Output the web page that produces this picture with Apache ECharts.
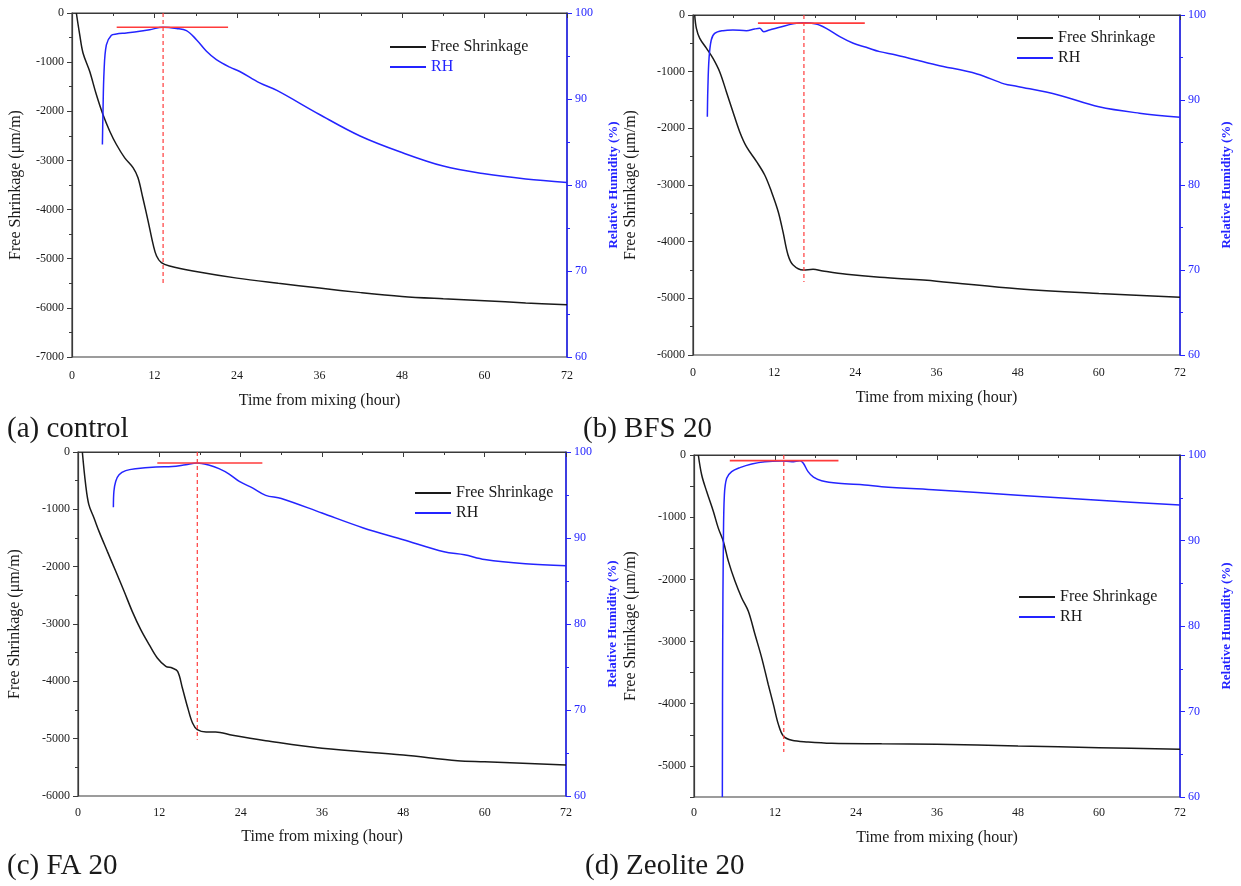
<!DOCTYPE html>
<html>
<head>
<meta charset="utf-8">
<title>Free shrinkage and RH</title>
<script src="https://cdn.jsdelivr.net/npm/echarts@6/dist/echarts.min.js"></script>
<style>
  html, body { margin: 0; background: #fff; }
  #chart { width: 1241px; height: 886px; }
</style>
</head>
<body>
<div id="chart"></div>
<script>
// ---- data (hours / µm/m / %) ----
// (a) control
const tFsA = [0.63, 1.12, 1.6, 2.57, 3.54, 4.5, 5.49, 6.46, 7.67, 8.9, 9.6, 10.3, 11.07, 11.8, 12.3, 13.0, 14.2, 17.6, 24, 30, 36, 42, 48, 54, 60, 66, 72];
const fsA = [0, -440, -813, -1186, -1660, -2066, -2405, -2676, -2947, -3150, -3354, -3760, -4234, -4709, -4946, -5081, -5149, -5250, -5395, -5500, -5598, -5690, -5767, -5815, -5855, -5900, -5937];
const tRhA = [4.42, 4.5, 4.66, 5.0, 5.73, 6.46, 7.9, 9.85, 11.3, 13.25, 15.2, 16.65, 18.1, 19.56, 21.0, 22.96, 24.4, 27.3, 29.8, 36, 41.9, 47.9, 54, 60, 66, 72];
const rhA = [84.7, 88.2, 93.2, 96.3, 97.4, 97.56, 97.68, 97.87, 98.06, 98.34, 98.2, 97.95, 96.9, 95.55, 94.58, 93.7, 93.2, 91.87, 91.0, 88.2, 85.7, 83.8, 82.2, 81.3, 80.7, 80.3];

// (b) BFS 20
const tFsB = [0.25, 0.5, 1.0, 2.0, 2.96, 3.94, 4.93, 5.9, 6.9, 7.9, 9.4, 10.6, 11.6, 12.6, 13.3, 14.05, 14.8, 16.3, 17.75, 19.2, 22.7, 27.6, 36, 48, 60, 72];
const fsB = [0, -235, -412, -588, -765, -1000, -1353, -1706, -2059, -2324, -2588, -2824, -3118, -3471, -3824, -4235, -4412, -4500, -4488, -4518, -4576, -4630, -4697, -4832, -4915, -4979];
const tRhB = [2.12, 2.2, 2.37, 2.7, 3.2, 4.44, 5.9, 7.9, 9.1, 9.86, 10.45, 11.3, 12.8, 14.8, 16.3, 18.2, 19.7, 21.7, 23.7, 25.6, 27.6, 30, 36, 42, 46, 48, 54, 60, 66, 72];
const rhB = [88.04, 91.4, 94.9, 97.06, 97.84, 98.16, 98.24, 98.16, 98.35, 98.43, 98.04, 98.24, 98.55, 98.98, 99.1, 98.94, 98.43, 97.45, 96.67, 96.2, 95.69, 95.3, 94.13, 93.07, 91.9, 91.6, 90.6, 89.2, 88.45, 87.98];

// (c) FA 20
const tFsC = [0.64, 1.13, 1.6, 2.36, 3.1, 4.33, 5.57, 6.8, 8.0, 9.26, 10.5, 11.7, 12.96, 13.9, 14.7, 15.4, 16.2, 16.9, 17.6, 18.9, 20.3, 22.8, 27.7, 36, 48, 56, 60, 72];
const fsC = [0, -570, -919, -1151, -1384, -1733, -2081, -2430, -2779, -3099, -3360, -3593, -3738, -3767, -3826, -4116, -4465, -4727, -4843, -4884, -4884, -4942, -5035, -5169, -5285, -5384, -5402, -5460];
const tRhC = [5.22, 5.3, 5.57, 6.06, 7.04, 8.5, 11.5, 13.9, 15.9, 17.6, 19.4, 20.8, 22.3, 23.8, 25.8, 27.7, 30, 36, 42, 48, 54, 57, 60, 66, 72];
const rhC = [93.57, 95.43, 96.6, 97.36, 97.83, 98.06, 98.26, 98.3, 98.53, 98.72, 98.45, 98.06, 97.44, 96.59, 95.8, 94.96, 94.6, 92.9, 91.2, 89.8, 88.4, 88.05, 87.5, 87.0, 86.77];

// (d) Zeolite 20
const tFsD = [0.64, 1.14, 1.88, 2.87, 3.6, 4.35, 5.1, 6.08, 7.07, 8.05, 9.04, 10.03, 11.0, 11.76, 12.5, 13.24, 14.5, 16.9, 20.4, 27.8, 36, 48, 60, 72];
const fsD = [0, -321, -588, -909, -1176, -1390, -1711, -2032, -2299, -2513, -2888, -3262, -3690, -4011, -4332, -4519, -4588, -4615, -4636, -4645, -4652, -4679, -4706, -4733];
const tRhD = [4.2, 4.25, 4.35, 4.5, 4.84, 5.58, 6.8, 8.55, 10.5, 13.0, 14.5, 15.7, 16.2, 16.9, 17.7, 18.9, 21.4, 25.3, 27.8, 36, 48, 60, 72];
const rhD = [60, 77.8, 89.5, 95.33, 97.28, 98.05, 98.52, 98.95, 99.22, 99.3, 99.22, 99.34, 99.03, 98.05, 97.4, 97.0, 96.7, 96.5, 96.3, 95.9, 95.3, 94.7, 94.16];

// red guide lines at the RH peak, one entry per panel (a, b, c, d)
const peakTime = [13.25, 16.4, 17.6, 13.3];
const peakRH = [98.34, 99.05, 98.72, 99.34];
const peakLineFrom = [6.5, 9.6, 11.7, 5.3];
const peakLineTo = [22.7, 25.4, 27.2, 21.4];
const dashBottom = [-5500, -4710, -5020, -4775];

const fsMins = [-7000, -6000, -6000, -5500];
const captions = ['(a) control', '(b) BFS 20', '(c) FA 20', '(d) Zeolite 20'];

const BLUE = '#2424ff';
const RED = '#ff3b3b';
const INK = '#1a1a1a';
const AXIS = '#3a3a3a';
const FONT = '"Liberation Serif", "DejaVu Serif", serif';

// layout of each panel (pixels)
const panels = [
  { tFs: tFsA, fs: fsA, tRh: tRhA, rh: rhA, grid: { left: 72, top: 13, width: 495, height: 344 },
    leftGap: 48, rightGap: 40, xGap: 36, labelGap: 13, legend: { left: 385, top: 34 }, rhLegendColor: BLUE, cap: [7, 415] },
  { tFs: tFsB, fs: fsB, tRh: tRhB, rh: rhB, grid: { left: 693, top: 15, width: 487, height: 340 },
    leftGap: 54, rightGap: 40, xGap: 35, labelGap: 12, legend: { left: 1012, top: 25 }, rhLegendColor: INK, cap: [583, 415] },
  { tFs: tFsC, fs: fsC, tRh: tRhC, rh: rhC, grid: { left: 78, top: 452, width: 488, height: 344 },
    leftGap: 55, rightGap: 40, xGap: 33, labelGap: 11, legend: { left: 410, top: 480 }, rhLegendColor: INK, cap: [7, 852] },
  { tFs: tFsD, fs: fsD, tRh: tRhD, rh: rhD, grid: { left: 694, top: 455, width: 486, height: 342 },
    leftGap: 55, rightGap: 40, xGap: 33, labelGap: 10, legend: { left: 1014, top: 584 }, rhLegendColor: INK, cap: [585, 852] }
];

const zip = (xs, ys) => xs.map((x, i) => [x, ys[i]]);

const chart = echarts.init(document.getElementById('chart'));

const grid = [], xAxis = [], yAxis = [], series = [], legend = [], graphic = [];

panels.forEach((p, i) => {
  grid.push(Object.assign({ show: true, borderColor: AXIS, borderWidth: 1.2, backgroundColor: 'transparent' }, p.grid));

  xAxis.push({
    gridIndex: i, type: 'value', min: 0, max: 72, interval: 12,
    name: 'Time from mixing (hour)', nameLocation: 'middle', nameGap: p.xGap,
    nameTextStyle: { fontSize: 16, color: INK, fontFamily: FONT },
    axisLine: { lineStyle: { color: AXIS, width: 1.2 } },
    axisTick: { length: 5, lineStyle: { color: AXIS } },
    minorTick: { show: true, splitNumber: 2, length: 3, lineStyle: { color: AXIS } },
    axisLabel: { fontSize: 12, color: INK, margin: p.labelGap, fontFamily: FONT },
    splitLine: { show: false }
  });

  // left: free shrinkage; panel d has min -5500 so step 500 and hide odd labels
  const half = fsMins[i] % 1000 !== 0;
  yAxis.push({
    gridIndex: i, type: 'value', position: 'left', min: fsMins[i], max: 0,
    interval: half ? 500 : 1000,
    name: 'Free Shrinkage (μm/m)', nameLocation: 'middle', nameGap: p.leftGap, nameRotate: 90,
    nameTextStyle: { fontSize: 16, color: INK, fontFamily: FONT },
    axisLine: { show: true, lineStyle: { color: AXIS, width: 1.2 } },
    axisTick: { show: true, length: half ? 4 : 5, lineStyle: { color: AXIS } },
    minorTick: { show: !half, splitNumber: 2, length: 3, lineStyle: { color: AXIS } },
    axisLabel: {
      fontSize: 12, color: INK, margin: 8, fontFamily: FONT,
      formatter: v => (v % 1000 === 0 ? String(v) : '')
    },
    splitLine: { show: false }
  });

  // right: relative humidity
  yAxis.push({
    gridIndex: i, type: 'value', position: 'right', min: 60, max: 100, interval: 10,
    name: 'Relative Humidity (%)', nameLocation: 'middle', nameGap: p.rightGap, nameRotate: 90,
    nameTextStyle: { fontSize: 13, fontWeight: 'bold', color: BLUE, fontFamily: FONT },
    axisLine: { show: true, lineStyle: { color: BLUE, width: 1.5 } },
    axisTick: { show: true, length: 5, lineStyle: { color: BLUE } },
    minorTick: { show: true, splitNumber: 2, length: 3, lineStyle: { color: BLUE } },
    axisLabel: { fontSize: 12, color: BLUE, margin: 8, fontFamily: FONT },
    splitLine: { show: false }
  });

  series.push({
    name: 'Free Shrinkage', type: 'line', xAxisIndex: i, yAxisIndex: 2 * i,
    data: zip(p.tFs, p.fs), symbol: 'none', smooth: 0.35,
    lineStyle: { color: INK, width: 1.5 }, itemStyle: { color: INK }, z: 3
  });
  series.push({
    name: 'RH', type: 'line', xAxisIndex: i, yAxisIndex: 2 * i + 1,
    data: zip(p.tRh, p.rh), symbol: 'none', smooth: 0.35,
    lineStyle: { color: BLUE, width: 1.5 }, itemStyle: { color: BLUE }, z: 3
  });
  series.push({
    name: 'peak', type: 'line', xAxisIndex: i, yAxisIndex: 2 * i + 1,
    data: [[peakLineFrom[i], peakRH[i]], [peakLineTo[i], peakRH[i]]], symbol: 'none',
    lineStyle: { color: RED, width: 1.6 }, z: 4, silent: true
  });
  series.push({
    name: 'peak time', type: 'line', xAxisIndex: i, yAxisIndex: 2 * i,
    data: [[peakTime[i], 0], [peakTime[i], dashBottom[i]]], symbol: 'none',
    lineStyle: { color: RED, width: 1.2, type: [4, 3] }, z: 4, silent: true
  });

  legend.push({
    left: p.legend.left, top: p.legend.top, orient: 'vertical', selectedMode: false,
    icon: 'rect', itemWidth: 36, itemHeight: 2, itemGap: 4,
    textStyle: { fontSize: 16, color: INK, fontFamily: FONT },
    data: [
      { name: 'Free Shrinkage' },
      { name: 'RH', textStyle: { color: p.rhLegendColor } }
    ]
  });

  graphic.push({
    type: 'text', left: p.cap[0], top: p.cap[1],
    style: { text: captions[i], font: '29px ' + FONT, fill: INK }
  });
});

chart.setOption({
  animation: false,
  backgroundColor: '#fff',
  textStyle: { fontFamily: FONT },
  grid, xAxis, yAxis, series, legend, graphic
});

window.addEventListener('resize', () => chart.resize());
</script>
</body>
</html>
